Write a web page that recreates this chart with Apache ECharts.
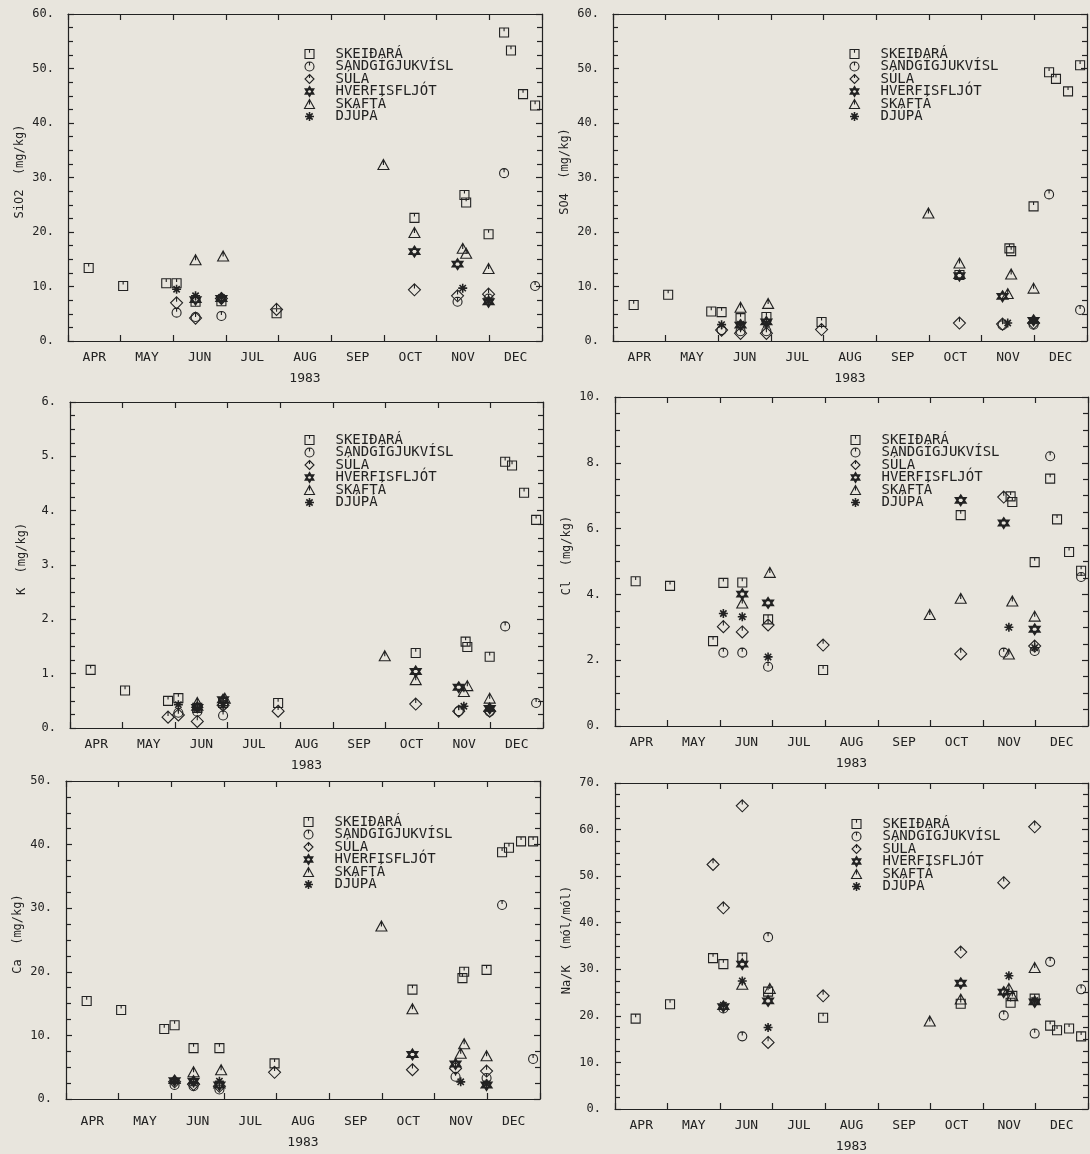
<!DOCTYPE html>
<html><head><meta charset="utf-8">
<script src="https://cdn.jsdelivr.net/npm/echarts@6/dist/echarts.min.js"></script>
<style>html,body{margin:0;padding:0;background:#e8e5dd}#c{width:1090px;height:1154px}</style>
</head><body><div id="c"></div>
<script>
// ---------- data ----------
const RIVERS = ['SKEIÐARÁ', 'SANDGÍGJUKVÍSL', 'SÚLA', 'HVERFISFLJÓT', 'SKAFTÁ', 'DJÚPÁ'];
const MONTHS = ['APR', 'MAY', 'JUN', 'JUL', 'AUG', 'SEP', 'OCT', 'NOV', 'DEC'];
const YEAR_LABEL = '1983';

// sampling dates per river
const DATES_SKEIDARA = ['1983-04-13','1983-05-03','1983-05-28','1983-06-03','1983-06-14','1983-06-29','1983-07-31','1983-10-19','1983-11-17','1983-11-18','1983-12-01','1983-12-10','1983-12-14','1983-12-21','1983-12-28'];
const DATES_SANDGIGJUKVISL = ['1983-06-03','1983-06-14','1983-06-29','1983-11-13','1983-12-01','1983-12-10','1983-12-28'];
const DATES_SULA = ['1983-05-28','1983-06-03','1983-06-14','1983-06-29','1983-07-31','1983-10-19','1983-11-13','1983-12-01'];
const DATES_HVERFISFLJOT = ['1983-06-03','1983-06-14','1983-06-29','1983-10-19','1983-11-13','1983-12-01'];
const DATES_SKAFTA = ['1983-06-14','1983-06-30','1983-10-01','1983-10-19','1983-11-16','1983-11-18','1983-12-01'];
const DATES_DJUPA = ['1983-06-03','1983-06-14','1983-06-29','1983-11-16','1983-12-01'];

// values, one list per river (same order as RIVERS), aligned with the dates above
const SIO2 = [
  [13.4, 10.1, 10.6, 10.6, 7.2, 7.3, 5.1, 22.6, 26.8, 25.4, 19.6, 56.6, 53.3, 45.3, 43.2],
  [5.2, 4.4, 4.6, 7.2, 7.8, 30.8, 10.1],
  [null, 7.0, 4.2, 7.8, 5.8, 9.4, 8.3, 8.6],
  [null, 7.6, 7.8, 16.4, 14.1, 7.2],
  [14.9, 15.6, 32.4, 19.9, 17.0, 16.1, 13.3],
  [9.5, 8.3, 8.0, 9.7, 7.4]
];
const SO4 = [
  [6.6, 8.5, 5.4, 5.3, 4.2, 4.4, 3.5, 12.1, 17.0, 16.5, 24.7, 49.3, 48.1, 45.8, 50.6],
  [2.0, 1.8, 1.8, 2.9, 3.0, 26.9, 5.7],
  [null, 2.0, 1.4, 1.4, 2.1, 3.3, 3.1, 3.3],
  [null, 2.9, 3.5, 12.0, 8.2, 3.8],
  [6.2, 6.9, 23.5, 14.3, 8.7, 12.3, 9.7],
  [3.0, 3.1, 3.2, 3.3, 3.7]
];
const K = [
  [1.07, 0.69, 0.50, 0.55, 0.37, 0.46, 0.46, 1.38, 1.59, 1.49, 1.31, 4.90, 4.83, 4.33, 3.83],
  [0.28, 0.30, 0.23, 0.31, 0.30, 1.87, 0.46],
  [0.20, 0.24, 0.12, 0.42, 0.31, 0.44, 0.31, 0.31],
  [null, 0.38, 0.52, 1.04, 0.75, 0.36],
  [0.47, 0.55, 1.33, 0.89, 0.67, 0.78, 0.55],
  [0.43, 0.36, 0.41, 0.40, 0.36]
];
const CL = [
  [4.40, 4.26, 2.58, 4.35, 4.36, 3.24, 1.70, 6.41, 6.98, 6.81, 4.98, 7.52, 6.28, 5.29, 4.72],
  [2.23, 2.23, 1.80, 2.23, 2.28, 8.20, 4.53],
  [null, 3.02, 2.86, 3.07, 2.46, 2.19, 6.96, 2.43],
  [null, 4.01, 3.74, 6.86, 6.17, 2.94],
  [3.74, 4.67, 3.39, 3.88, 2.19, 3.80, 3.34],
  [3.42, 3.32, 2.10, 3.00, 2.38]
];
const CA = [
  [15.4, 14.0, 11.0, 11.6, 8.0, 8.0, 5.6, 17.2, 19.0, 20.0, 20.3, 38.8, 39.5, 40.5, 40.5],
  [2.2, 2.0, 1.5, 3.5, 3.3, 30.5, 6.3],
  [null, 2.7, 2.3, 2.0, 4.2, 4.6, 4.8, 4.4],
  [2.9, 2.8, 2.2, 7.0, 5.5, 2.2],
  [4.3, 4.6, 27.2, 14.2, 7.2, 8.7, 6.8],
  [2.8, 2.5, 2.8, 2.7, 2.4]
];
const NAK = [
  [19.4, 22.5, 32.4, 31.1, 32.5, 25.2, 19.6, 22.6, 22.8, 24.3, 23.7, 17.9, 16.9, 17.3, 15.6],
  [21.6, 15.6, 36.9, 20.1, 16.2, 31.6, 25.7],
  [52.5, 43.2, 65.1, 14.3, 24.3, 33.7, 48.6, 60.6],
  [22.0, 31.1, 23.2, 27.0, 25.1, 23.0],
  [26.8, 25.9, 18.9, 23.6, 25.9, 24.3, 30.4],
  [22.3, 27.5, 17.5, 28.6, 23.3]
];

// ---------- styling ----------
const DATES = [DATES_SKEIDARA, DATES_SANDGIGJUKVISL, DATES_SULA, DATES_HVERFISFLJOT, DATES_SKAFTA, DATES_DJUPA];
const INK = '#222222';
const FONT = '"DejaVu Sans Mono", monospace';
const SYMBOLS = [
  'path://M0,0H10V10H0Z M5,0V3.5',
  'path://M10,5A5,5,0,1,1,0,5A5,5,0,1,1,10,5Z M5,0V4',
  'path://M5,0L10,5L5,10L0,5Z M5,0V4',
  'path://M5,0L9.33,7.5L0.67,7.5Z M5,10L9.33,2.5L0.67,2.5Z',
  'path://M5,0L10,9L0,9Z M5,0V5',
  'path://M5,0V10 M0,5H10 M1.5,1.5L8.5,8.5 M1.5,8.5L8.5,1.5'
];
const SIZES = [[9, 9], [9, 9], [12, 12], [10, 10], [11, 10], [9, 9]];
const WIDTHS = [1.1, 1.1, 1.1, 1.8, 1.1, 1.6];

const PANELS = [
  { vals: SIO2, max: 60, step: 10, name: 'SiO2  (mg/kg)', box: [68, 14, 474, 327], leg: [302, 47], lm: 10, ng: 31 },
  { vals: SO4, max: 60, step: 10, name: 'SO4  (mg/kg)', box: [613, 14, 474, 327], leg: [847, 47], lm: 10, ng: 31 },
  { vals: K, max: 6, step: 1, name: 'K  (mg/kg)', box: [70, 402, 473, 326], leg: [302, 433], lm: 10, ng: 31 },
  { vals: CL, max: 10, step: 2, name: 'Cl  (mg/kg)', box: [615, 397, 473, 329], leg: [848, 433], lm: 10, ng: 31 },
  { vals: CA, max: 50, step: 10, name: 'Ca  (mg/kg)', box: [66, 781, 474, 318], leg: [301, 815], lm: 16, ng: 37 },
  { vals: NAK, max: 70, step: 10, name: 'Na/K  (mól/mól)', box: [615, 783, 473, 327], leg: [849, 817], lm: 10, ng: 31 }
];

const grid = [], xAxis = [], yAxis = [], series = [], legend = [];
const lineStyle = { color: INK, width: 1.2 };

PANELS.forEach((p, pi) => {
  grid.push({ left: p.box[0], top: p.box[1], width: p.box[2], height: p.box[3], containLabel: false });
  // time axis used for placing the points
  xAxis.push({ type: 'time', gridIndex: pi, min: '1983-04-01', max: '1984-01-01', show: false });
  // month bands: bottom with labels
  xAxis.push({
    type: 'category', gridIndex: pi, position: 'bottom', data: MONTHS, boundaryGap: true,
    axisLine: { show: true, onZero: false, lineStyle },
    axisTick: { show: true, inside: true, length: 6, interval: 0, lineStyle },
    axisLabel: { interval: 0, margin: p.lm, color: INK, fontFamily: FONT, fontSize: 13 },
    name: YEAR_LABEL, nameLocation: 'middle', nameGap: p.ng,
    nameTextStyle: { color: INK, fontFamily: FONT, fontSize: 13 },
    splitLine: { show: false }
  });
  // top ticks
  xAxis.push({
    type: 'category', gridIndex: pi, position: 'top', data: MONTHS, boundaryGap: true,
    axisLine: { show: true, onZero: false, lineStyle },
    axisTick: { show: true, inside: true, length: 6, interval: 0, lineStyle },
    axisLabel: { show: false }, splitLine: { show: false }
  });
  const yCommon = {
    type: 'value', gridIndex: pi, min: 0, max: p.max, interval: p.step,
    axisLine: { show: true, lineStyle },
    axisTick: { show: true, inside: true, length: 6, lineStyle },
    minorTick: { show: true, splitNumber: 4, length: 5, lineStyle },
    splitLine: { show: false }, minorSplitLine: { show: false }
  };
  yAxis.push(Object.assign({}, yCommon, {
    position: 'left',
    axisLabel: { formatter: v => v + '.', margin: 14, color: INK, fontFamily: FONT, fontSize: 12 },
    name: p.name, nameLocation: 'middle', nameGap: 42,
    nameTextStyle: { color: INK, fontFamily: FONT, fontSize: 12, padding: [0, 0, 0, 12] }
  }));
  yAxis.push(Object.assign({}, yCommon, { position: 'right', axisLabel: { show: false } }));

  RIVERS.forEach((r, ri) => {
    const data = [];
    DATES[ri].forEach((d, i) => { const v = p.vals[ri][i]; if (v != null) data.push([d, v]); });
    series.push({
      type: 'scatter', name: r, xAxisIndex: pi * 3, yAxisIndex: pi * 2, data,
      symbol: SYMBOLS[ri], symbolSize: SIZES[ri],
      itemStyle: { color: 'none', borderColor: INK, borderWidth: WIDTHS[ri], opacity: 1 },
      silent: true, emphasis: { disabled: true }
    });
  });

  legend.push({
    orient: 'vertical', left: p.leg[0], top: p.leg[1], itemWidth: 42, itemHeight: 9, itemGap: -1.5,
    selectedMode: false, symbolKeepAspect: true, padding: 0,
    textStyle: { color: INK, fontFamily: FONT, fontSize: 14, lineHeight: 12 },
    data: RIVERS.map((n, i) => ({
      name: n, icon: SYMBOLS[i],
      itemStyle: { color: 'none', borderColor: INK, borderWidth: WIDTHS[i] }
    }))
  });
});

const chart = echarts.init(document.getElementById('c'), null, { renderer: 'canvas' });
chart.setOption({
  backgroundColor: '#e8e5dd',
  animation: false,
  grid, xAxis, yAxis, series, legend
});
</script></body></html>
